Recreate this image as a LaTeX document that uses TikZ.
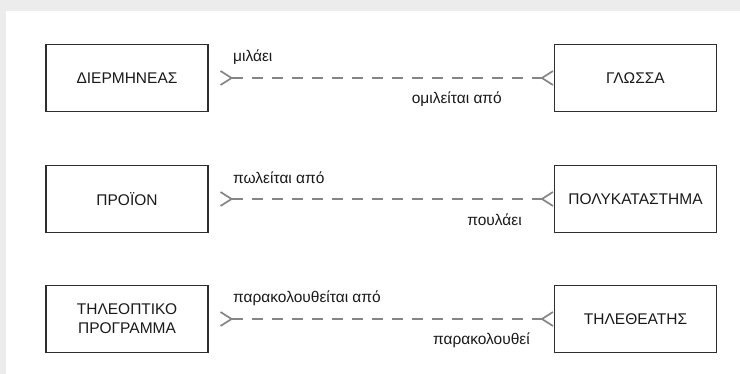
\documentclass[tikz,border=0pt]{standalone}
\usepackage{fontspec}
\setmainfont{Liberation Sans}
\usetikzlibrary{arrows.meta}

\definecolor{pagegray}{HTML}{ECECEC}
\definecolor{linkgray}{HTML}{858585}
\definecolor{boxline}{HTML}{2E2E2E}
\definecolor{inkcol}{HTML}{1A1A1A}

\tikzset{
  entbox/.style={draw=boxline, line width=1.4pt, minimum width=162pt, minimum height=67pt,
    inner sep=0pt, align=center, text=inkcol, font=\fontsize{15.5pt}{19pt}\selectfont},
  barb/.tip={Straight Barb[reversed, length=11pt, width=14pt, line width=1.7pt]},
  rel/.style={draw=linkgray, line width=2.5pt, dash pattern=on 11pt off 9pt, barb-barb},
  lbl/.style={inner sep=0pt, text=inkcol, font=\fontsize{15.5pt}{19pt}\selectfont},
}

\begin{document}
\begin{tikzpicture}[x=1pt,y=-1pt]
\fill [pagegray] (0,0) rectangle (740,374);
\fill [white] (6,11) rectangle (740,374);
\useasboundingbox (0,0) rectangle (740,374);

% one row per relationship
\foreach \n/\y/\lt/\rt/\up/\down/\dx in {
    1/78/ΔΙΕΡΜΗΝΕΑΣ/ΓΛΩΣΣΑ/μιλάει/ομιλείται από/502,
    2/199/ΠΡΟΪΟΝ/ΠΟΛΥΚΑΤΑΣΤΗΜΑ/πωλείται από/πουλάει/522,
    3/319/{ΤΗΛΕΟΠΤΙΚΟ\\ΠΡΟΓΡΑΜΜΑ}/ΤΗΛΕΘΕΑΤΗΣ/παρακολουθείται από/παρακολουθεί/530} {
    \node[entbox] (left\n) at (127,\y) {\lt};
    \node[entbox] (right\n) at (635.5,\y) {\rt};
    \coordinate (start\n) at ([xshift=11pt]left\n.east);
    \draw[rel] (start\n) -- (right\n.west);
    \node[lbl, anchor=west] (up\n) at (233,\y-21) {\up};
    \node[lbl, anchor=east] (down\n) at (\dx,\y+21) {\down};
}

\end{tikzpicture}
\end{document}
